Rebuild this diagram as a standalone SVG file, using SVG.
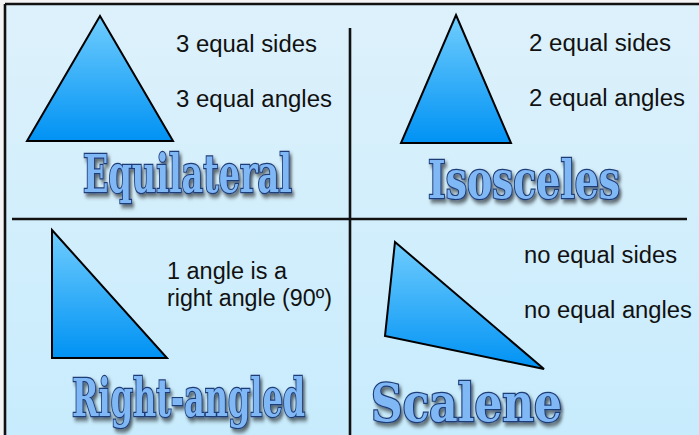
<svg xmlns="http://www.w3.org/2000/svg" width="699" height="435" viewBox="0 0 699 435">
<defs>
<linearGradient id="bg" x1="0" y1="0" x2="0" y2="1">
<stop offset="0" stop-color="#ddf1fb"/>
<stop offset="1" stop-color="#c8ecfd"/>
</linearGradient>
<linearGradient id="tri" x1="0" y1="0" x2="0" y2="1">
<stop offset="0" stop-color="#70cdfd"/>
<stop offset="1" stop-color="#0092f4"/>
</linearGradient>
<filter id="sh" x="-10%" y="-20%" width="120%" height="150%">
<feDropShadow dx="2" dy="3" stdDeviation="1.8" flood-color="#000" flood-opacity="0.6"/>
</filter>
<style>
.t{fill:url(#tri);stroke:#000;stroke-width:2;stroke-linejoin:miter}
.d{font-family:"Liberation Sans",Arial,sans-serif;font-size:23.5px;fill:#111}
.h{font-family:"DejaVu Serif",serif;font-weight:bold;font-stretch:condensed;font-size:46px;fill:#80b8f6;stroke:#1f3d78;stroke-width:2.1;paint-order:stroke;filter:url(#sh)}
.ln{stroke:#111;stroke-width:2.6;fill:none}
</style>
</defs>
<rect x="0" y="0" width="699" height="435" fill="#f4f4f4"/>
<rect x="5" y="4" width="694" height="431" fill="url(#bg)"/>
<g id="frame">
<line class="ln" x1="5" y1="4" x2="699" y2="4"/>
<line class="ln" x1="5" y1="4" x2="5" y2="435"/>
</g>
<g id="connectors">
<line class="ln" x1="12" y1="219" x2="687" y2="219"/>
<line class="ln" x1="350" y1="28" x2="350" y2="435"/>
</g>
<g id="equilateral">
<polygon class="t" points="100,16 173,141 27,141"/>
<text class="d" x="176" y="52" textLength="141" lengthAdjust="spacingAndGlyphs">3 equal sides</text>
<text class="d" x="176" y="107" textLength="156" lengthAdjust="spacingAndGlyphs">3 equal angles</text>
<text class="h" transform="translate(83,192) scale(1,1.13)" x="0" y="0" textLength="209" lengthAdjust="spacingAndGlyphs">Equilateral</text>
</g>
<g id="isosceles">
<polygon class="t" points="456,15 511,143 401,143"/>
<text class="d" x="529" y="51" textLength="142" lengthAdjust="spacingAndGlyphs">2 equal sides</text>
<text class="d" x="529" y="106" textLength="156" lengthAdjust="spacingAndGlyphs">2 equal angles</text>
<text class="h" transform="translate(428,198) scale(1,1.13)" x="0" y="0" textLength="192" lengthAdjust="spacingAndGlyphs">Isosceles</text>
</g>
<g id="right-angled">
<polygon class="t" points="52,230 167,358 52,358"/>
<text class="d" x="167" y="279" textLength="120" lengthAdjust="spacingAndGlyphs">1 angle is a</text>
<text class="d" x="167" y="306" textLength="165" lengthAdjust="spacingAndGlyphs">right angle (90º)</text>
<text class="h" transform="translate(72,416) scale(1,1.13)" x="0" y="0" textLength="233" lengthAdjust="spacingAndGlyphs">Right-angled</text>
</g>
<g id="scalene">
<polygon class="t" points="395,242 544,369 385,336"/>
<text class="d" x="524" y="263" textLength="153" lengthAdjust="spacingAndGlyphs">no equal sides</text>
<text class="d" x="524" y="318" textLength="168" lengthAdjust="spacingAndGlyphs">no equal angles</text>
<text class="h" transform="translate(371,421) scale(1,1.13)" x="0" y="0" textLength="191" lengthAdjust="spacingAndGlyphs">Scalene</text>
</g>
</svg>
